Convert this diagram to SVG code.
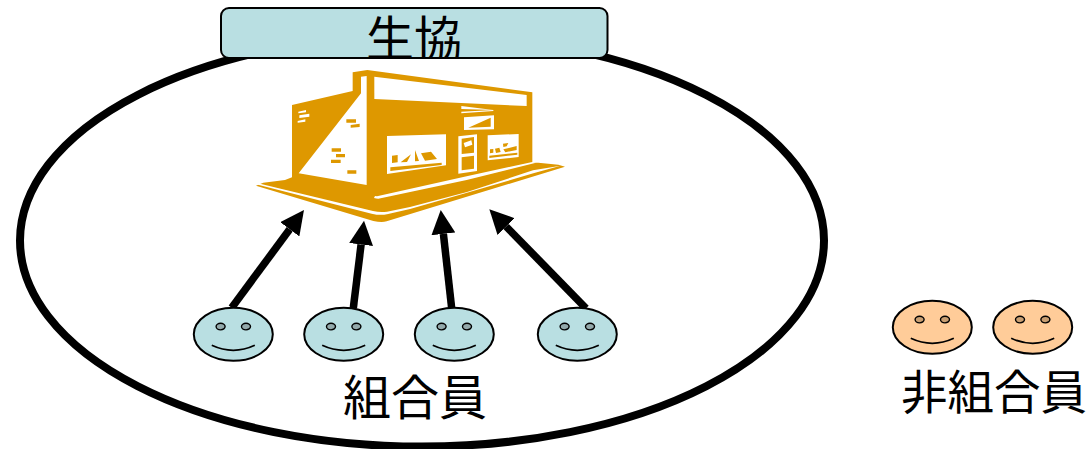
<svg xmlns="http://www.w3.org/2000/svg" width="1088" height="449" viewBox="0 0 1088 449">
<style>
text{font-family:"Noto Sans CJK JP","Liberation Sans",sans-serif;font-size:48px;fill:#000}
.member{fill:#b9dfe2;stroke:#000;stroke-width:2}
.other{fill:#ffcc99;stroke:#000;stroke-width:2}
.eyeM{fill:#93a9ab;stroke:#000;stroke-width:1.4}
.eyeO{fill:#c99f72;stroke:#000;stroke-width:1.4}
.smile{fill:none;stroke:#000;stroke-width:1.8}
.arrow{stroke:#000;stroke-width:7.500;fill:none;marker-end:url(#head)}
.or{fill:#de9800}
.wh{fill:#fff}
</style>
<defs>
<marker id="head" markerUnits="userSpaceOnUse" markerWidth="25" markerHeight="24" refX="0" refY="12" orient="auto"><path d="M0,0L24,12L0,24Z" fill="#000"/></marker>
<g id="face"><path class="smile" d="M-21.500,11Q0,21 21.500,11"/></g>
<clipPath id="boxclip"><rect x="221" y="8" width="386.500" height="50" rx="8"/></clipPath>
</defs>
<g id="ring"><ellipse cx="422" cy="240.600" rx="402" ry="206" fill="#fff" stroke="#000" stroke-width="8"/></g>
<g id="title"><rect x="221" y="8" width="386.500" height="50" rx="8" fill="#b9dfe2" stroke="#000" stroke-width="2"/><text x="414" y="56" text-anchor="middle" clip-path="url(#boxclip)">生協</text></g>
<g id="shop" transform="translate(250 60) scale(.33333)">
<path class="or" d="M126,135L308,93V37L352,30L847,97V308L865,308L925,314L945,320L410,484Q395,488 370,483L18,377L40,368L105,360L126,352Z"/>
<path class="wh" d="M333,100V50L350,48V375L146,340Z"/>
<path class="wh" d="M373,50L830,105V138L373,117Z"/>
<path class="wh" d="M375,408L381,409L650,349L847,306L858,308L650,360L385,416Q378,416 372,414Z"/>
<path class="wh" d="M24,370L369,453Q390,458 411,455L480,441L651,396L849,331L932,317L850,340L651,398L480,447L411,463Q390,467 365,461L24,374Z"/>
<path class="wh" d="M145,155L168,150V157L145,160ZM148,166L178,161V170L148,174ZM143,183L166,178V185L143,188Z"/>
<path class="or" d="M289,178H318V188H289ZM302,195L329,191V201L302,203ZM245,265H273V275H245ZM258,282H285V292H258ZM243,299H272V309H243ZM292,331H319V341H292Z"/>
<path class="wh" d="M411,228L588,223V316L411,342Z"/>
<path class="or" d="M426,287L443,285V307L426,309ZM452,307L483,283L471,306ZM495,270L507,303L495,304ZM513,280L543,275L561,297L525,302ZM421,322L575,308V315L421,333Z"/>
<path class="wh" d="M625,229L681,223V333L625,341Z"/>
<path class="or" d="M635,236L672,231V278L635,282ZM635,292L672,287V326L635,331Z"/>
<path class="wh" d="M641,249L664,241L667,254L645,262Z"/>
<path class="wh" d="M713,226L806,222V291L713,301Z"/>
<path class="or" d="M720,268L730,267V278L720,280ZM735,266L748,263L752,276L738,279ZM759,251L775,249L770,259L760,261ZM760,268L800,258V270L766,277ZM718,287L802,278V284L718,294Z"/>
<path class="wh" d="M642,172L732,166V208L642,210Z"/>
<path class="or" d="M655,203L722,173V200Z"/>
<path class="wh" d="M634,138L730,150L634,147ZM634,155L730,150V153L634,160Z"/>
</g>
<g id="connectors">
<line class="arrow" x1="231.700" y1="307.700" x2="289.700" y2="229.300"/>
<line class="arrow" x1="353.300" y1="308.300" x2="361.100" y2="244.500"/>
<line class="arrow" x1="451.700" y1="308.300" x2="443.400" y2="233.900"/>
<line class="arrow" x1="586" y1="308.300" x2="506.100" y2="226.500"/>
</g>
<g id="member1" transform="translate(233.300 334.300)"><ellipse class="member" rx="39.500" ry="26.500"/><ellipse class="eyeM" cx="-12.700" cy="-7.700" rx="4.500" ry="3.300"/><ellipse class="eyeM" cx="12.700" cy="-7.700" rx="4.500" ry="3.300"/><use href="#face"/></g>
<g id="member2" transform="translate(343.700 334.300)"><ellipse class="member" rx="39.500" ry="26.500"/><ellipse class="eyeM" cx="-12.700" cy="-7.700" rx="4.500" ry="3.300"/><ellipse class="eyeM" cx="12.700" cy="-7.700" rx="4.500" ry="3.300"/><use href="#face"/></g>
<g id="member3" transform="translate(454.300 334.300)"><ellipse class="member" rx="39.500" ry="26.500"/><ellipse class="eyeM" cx="-12.700" cy="-7.700" rx="4.500" ry="3.300"/><ellipse class="eyeM" cx="12.700" cy="-7.700" rx="4.500" ry="3.300"/><use href="#face"/></g>
<g id="member4" transform="translate(577.300 334.300)"><ellipse class="member" rx="39.500" ry="26.500"/><ellipse class="eyeM" cx="-12.700" cy="-7.700" rx="4.500" ry="3.300"/><ellipse class="eyeM" cx="12.700" cy="-7.700" rx="4.500" ry="3.300"/><use href="#face"/></g>
<g id="other1" transform="translate(932.300 327.300)"><ellipse class="other" rx="39.500" ry="26.500"/><ellipse class="eyeO" cx="-12.700" cy="-7.700" rx="4.500" ry="3.300"/><ellipse class="eyeO" cx="12.700" cy="-7.700" rx="4.500" ry="3.300"/><use href="#face"/></g>
<g id="other2" transform="translate(1032.700 327.300)"><ellipse class="other" rx="39.500" ry="26.500"/><ellipse class="eyeO" cx="-12.700" cy="-7.700" rx="4.500" ry="3.300"/><ellipse class="eyeO" cx="12.700" cy="-7.700" rx="4.500" ry="3.300"/><use href="#face"/></g>
<g id="label-members"><text x="415" y="415" text-anchor="middle">組合員</text></g>
<g id="label-others"><text x="994" y="409" text-anchor="middle" style="font-size:46.500px">非組合員</text></g>
</svg>
